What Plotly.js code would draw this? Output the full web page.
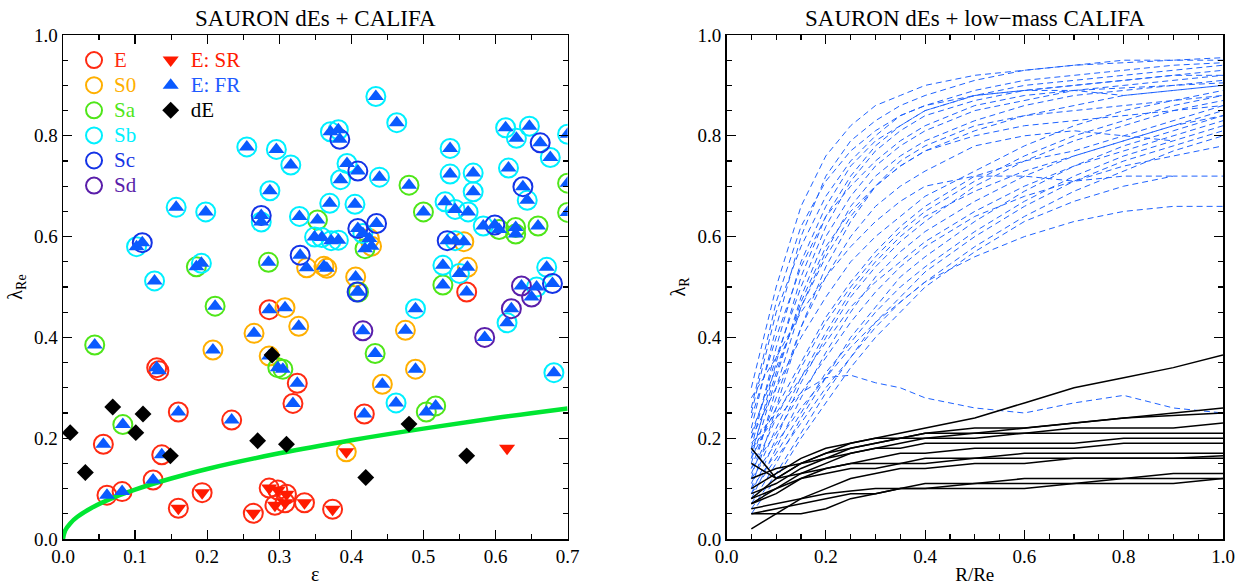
<!DOCTYPE html>
<html><head><meta charset="utf-8">
<script src="https://cdn.plot.ly/plotly-3.0.1.min.js"></script>
<style>html,body{margin:0;padding:0;background:#fff}#plot{width:1241px;height:585px}</style>
</head><body><div id="plot"></div>
<script>
// ---------- Left panel: lambda_Re vs ellipticity ----------
// morphological types (open circles); kin: F = fast rotator, S = slow rotator
const E_eps  = [0.286,0.130,0.133,0.325,0.319,0.160,0.234,0.056,0.137,0.061,0.082,0.125,0.418,0.560,
                0.193,0.160,0.264,0.286,0.298,0.310,0.294,0.308,0.335,0.374];
const E_lam  = [0.455,0.340,0.334,0.309,0.269,0.252,0.236,0.188,0.167,0.087,0.094,0.117,0.248,0.490,
                0.092,0.061,0.051,0.101,0.097,0.089,0.067,0.072,0.072,0.059];
const E_kin  = ['F','F','F','F','F','F','F','F','F','F','F','F','F','F',
                'S','S','S','S','S','S','S','S','S','S'];

const S0_eps = [0.308,0.327,0.265,0.208,0.286,0.338,0.362,0.366,0.406,0.425,0.428,0.556,0.561,0.475,0.489,0.443,0.393];
const S0_lam = [0.459,0.422,0.408,0.375,0.363,0.538,0.541,0.537,0.520,0.596,0.581,0.590,0.539,0.414,0.337,0.307,0.173];
const S0_kin = ['F','F','F','F','F','F','F','F','F','F','F','F','F','F','F','F','S'];

const Sa_eps = [0.353,0.185,0.285,0.480,0.700,0.500,0.419,0.605,0.628,0.628,0.659,0.700,0.410,0.527,0.433,0.504,0.517,0.211,0.044,0.298,0.305,0.083];
const Sa_lam = [0.633,0.540,0.549,0.702,0.706,0.649,0.576,0.614,0.618,0.605,0.621,0.648,0.490,0.504,0.368,0.252,0.264,0.462,0.385,0.340,0.337,0.227];
const Sa_kin = ['F','F','F','F','F','F','F','F','F','F','F','F','F','F','F','F','F','F','F','F','F','F'];

const Sb_eps = [0.255,0.296,0.316,0.287,0.157,0.198,0.275,0.328,0.349,0.102,0.192,0.127,0.434,0.463,0.371,0.382,0.537,
                0.614,0.647,0.629,0.676,0.700,0.394,0.385,0.439,0.537,0.569,0.569,0.618,0.644,0.370,0.405,0.530,0.544,
                0.562,0.359,0.372,0.382,0.416,0.544,0.583,0.527,0.550,0.671,0.657,0.489,0.616,0.681,0.462];
const Sb_lam = [0.778,0.773,0.742,0.691,0.658,0.649,0.629,0.640,0.599,0.580,0.547,0.512,0.878,0.826,0.808,0.812,0.775,
                0.816,0.819,0.795,0.757,0.803,0.745,0.713,0.718,0.724,0.726,0.689,0.736,0.672,0.666,0.664,0.669,0.654,
                0.649,0.598,0.592,0.593,0.606,0.592,0.621,0.543,0.527,0.539,0.500,0.457,0.429,0.330,0.270];
const Sb_kin = Sb_eps.map(() => 'F');

const Sc_eps = [0.275,0.110,0.329,0.384,0.409,0.662,0.638,0.409,0.435,0.533,0.599,0.679,0.408];
const Sc_lam = [0.642,0.588,0.563,0.793,0.730,0.786,0.699,0.616,0.626,0.592,0.623,0.507,0.490];
const Sc_kin = Sc_eps.map(() => 'F');

const Sd_eps = [0.636,0.650,0.622,0.585,0.416];
const Sd_lam = [0.502,0.480,0.457,0.400,0.413];
const Sd_kin = ['F','F','F','F','F'];

// slow rotator without morphological circle
const SRonly_eps = [0.616];
const SRonly_lam = [0.180];

// SAURON dwarf ellipticals
const dE_eps = [0.290,0.069,0.111,0.010,0.101,0.149,0.031,0.270,0.310,0.480,0.560,0.420];
const dE_lam = [0.365,0.262,0.248,0.211,0.211,0.165,0.132,0.195,0.188,0.228,0.165,0.122];

// fast/slow dividing curve
const curve_eps = [0,0.003,0.01,0.02,0.04,0.07,0.1,0.15,0.2,0.3,0.4,0.5,0.6,0.7];
const curve_lam = [0,0.017,0.031,0.044,0.062,0.082,0.098,0.120,0.139,0.170,0.196,0.219,0.240,0.259];

// ---------- Right panel: lambda_R profiles ----------
const R_grid = [0.05,0.1,0.15,0.2,0.25,0.3,0.35,0.4,0.5,0.6,0.7,0.8,0.9,1.0];
const califa_profiles = [
  [0.30,0.50,0.66,0.76,0.82,0.86,0.88,0.90,0.92,0.93,0.94,0.95,0.95,0.955],
  [0.22,0.42,0.60,0.72,0.79,0.83,0.86,0.88,0.91,0.93,0.94,0.945,0.95,0.95],
  [0.25,0.45,0.58,0.68,0.75,0.80,0.84,0.86,0.89,0.91,0.92,0.93,0.94,0.945],
  [0.18,0.38,0.55,0.66,0.74,0.79,0.82,0.85,0.88,0.90,0.91,0.92,0.93,0.94],
  [0.20,0.36,0.50,0.62,0.71,0.77,0.81,0.84,0.87,0.89,0.90,0.91,0.92,0.93],
  [0.15,0.32,0.48,0.60,0.68,0.74,0.78,0.81,0.85,0.87,0.89,0.90,0.91,0.92],
  [0.24,0.40,0.54,0.64,0.70,0.75,0.79,0.82,0.86,0.88,0.89,0.895,0.90,0.905],
  [0.12,0.30,0.46,0.57,0.66,0.72,0.76,0.79,0.83,0.86,0.88,0.89,0.90,0.91],
  [0.17,0.33,0.47,0.58,0.65,0.70,0.74,0.77,0.81,0.84,0.86,0.88,0.89,0.90],
  [0.10,0.26,0.42,0.54,0.63,0.70,0.75,0.78,0.82,0.84,0.85,0.86,0.87,0.88],
  [0.14,0.28,0.42,0.52,0.60,0.66,0.70,0.73,0.78,0.80,0.81,0.80,0.79,null],
  [0.20,0.30,0.40,0.48,0.55,0.60,0.64,0.68,0.73,0.78,0.82,0.85,0.87,0.89],
  [0.13,0.24,0.34,0.43,0.50,0.56,0.61,0.65,0.71,0.76,0.80,0.83,0.86,0.88],
  [0.09,0.20,0.31,0.40,0.48,0.54,0.59,0.63,0.70,0.75,0.79,0.82,0.85,0.87],
  [0.16,0.26,0.35,0.44,0.51,0.57,0.62,0.66,0.72,0.75,0.77,0.80,0.83,0.86],
  [0.11,0.22,0.32,0.41,0.49,0.55,0.60,0.64,0.69,0.73,0.76,0.79,0.82,0.85],
  [0.08,0.18,0.28,0.37,0.45,0.52,0.57,0.61,0.67,0.72,0.76,0.79,0.82,0.84],
  [0.28,0.36,0.45,0.52,0.58,0.63,0.67,0.70,0.72,0.72,0.71,0.72,0.72,null],
  [0.07,0.15,0.24,0.32,0.40,0.46,0.52,0.56,0.63,0.69,0.74,0.77,0.80,0.83],
  [0.10,0.17,0.25,0.33,0.39,0.45,0.50,0.54,0.61,0.67,0.72,0.76,0.79,0.82],
  [0.06,0.13,0.21,0.29,0.36,0.43,0.48,0.53,0.60,0.66,0.71,0.75,0.78,0.81],
  [0.12,0.19,0.26,0.32,0.38,0.43,0.47,0.51,0.58,0.64,0.69,0.73,0.77,0.80],
  [0.05,0.12,0.20,0.27,0.34,0.40,0.45,0.50,0.57,0.63,0.67,0.70,0.72,0.72],
  [0.09,0.16,0.23,0.30,0.36,0.42,0.47,0.51,0.56,0.60,0.63,0.65,0.66,0.66],
  [0.14,0.21,0.29,0.36,0.43,0.49,0.54,0.58,0.64,0.68,0.71,0.74,0.76,0.78],
  [0.19,0.25,0.32,0.39,0.46,0.51,0.55,0.59,0.65,0.70,0.74,0.78,0.81,0.84],
  [0.18,0.24,0.29,0.32,0.325,0.31,0.30,0.28,0.26,0.25,0.27,0.285,0.26,0.25],
  [0.26,0.47,0.62,0.71,0.77,0.81,0.84,0.86,0.88,0.89,0.90,0.91,0.92,0.92],
  [0.16,0.35,0.52,0.64,0.72,0.78,0.82,0.85,0.88,0.89,0.89,0.88,0.89,0.90],
  [0.21,0.34,0.46,0.56,0.64,0.70,0.74,0.77,0.80,0.82,0.83,0.84,0.85,0.86]
];
const dE_profiles = [
  [0.10,0.13,0.16,0.18,0.19,0.20,0.21,0.22,0.24,0.27,0.30,0.32,0.34,0.365],
  [0.08,0.12,0.15,0.17,0.18,0.19,0.20,0.20,0.21,0.22,0.23,0.24,0.25,0.26],
  [0.09,0.11,0.14,0.16,0.18,0.19,0.20,0.21,0.22,0.22,0.23,0.24,0.245,0.25],
  [0.18,0.12,0.15,0.17,0.19,0.20,0.20,0.21,0.21,0.21,0.22,0.22,0.22,0.23],
  [0.07,0.10,0.13,0.15,0.17,0.18,0.19,0.20,0.20,0.21,0.21,0.21,0.21,0.21],
  [0.12,0.14,0.15,0.16,0.17,0.18,0.18,0.19,0.19,0.19,0.19,0.20,0.20,0.20],
  [0.07,0.09,0.12,0.14,0.15,0.16,0.17,0.17,0.18,0.18,0.18,0.19,0.19,0.19],
  [0.15,0.12,0.13,0.14,0.15,0.15,0.15,0.16,0.16,0.17,0.17,0.17,0.17,0.17],
  [0.08,0.10,0.12,0.13,0.14,0.14,0.15,0.15,0.16,0.16,0.16,0.16,0.16,0.16],
  [0.06,0.07,0.08,0.09,0.095,0.10,0.10,0.11,0.11,0.12,0.12,0.12,0.13,0.13],
  [0.05,0.06,0.07,0.08,0.09,0.09,0.10,0.10,0.11,0.11,0.11,0.12,0.12,0.12],
  [0.02,0.05,0.08,0.10,0.12,0.13,0.14,0.14,0.15,0.15,0.16,0.16,0.16,0.165],
  [0.05,0.05,0.05,0.06,0.08,0.09,0.10,0.10,0.10,0.10,0.11,0.11,0.11,0.12]
];

// ---------- styling ----------
const types = [
  {name:'E',  eps:E_eps,  lam:E_lam,  kin:E_kin,  color:'#ff2a12'},
  {name:'S0', eps:S0_eps, lam:S0_lam, kin:S0_kin, color:'#ffaf00'},
  {name:'Sa', eps:Sa_eps, lam:Sa_lam, kin:Sa_kin, color:'#4fe619'},
  {name:'Sb', eps:Sb_eps, lam:Sb_lam, kin:Sb_kin, color:'#00f0ff'},
  {name:'Sc', eps:Sc_eps, lam:Sc_lam, kin:Sc_kin, color:'#1433e6'},
  {name:'Sd', eps:Sd_eps, lam:Sd_lam, kin:Sd_kin, color:'#5a1eaa'}
];
const FRcol = '#0a5aff', SRcol = '#ff1a00';
const lg = (txt, col) => '<span style="font-size:21px;color:' + col + '">' + txt + '</span>';

const traces = [];
types.forEach(t => {
  traces.push({type:'scatter', mode:'markers', x:t.eps, y:t.lam, xaxis:'x', yaxis:'y',
    name:lg(t.name, t.color), legend:'legend',
    marker:{symbol:'circle-open', size:19, color:t.color, line:{width:2, color:t.color}}});
});
traces.push({type:'scatter', mode:'lines', x:curve_eps, y:curve_lam, xaxis:'x', yaxis:'y',
  line:{color:'#00e632', width:4.5, shape:'spline'}, showlegend:false});

const fr = {x:[], y:[]}, sr = {x:[], y:[]};
types.forEach(t => t.eps.forEach((e,i) => {
  const tgt = t.kin[i] === 'S' ? sr : fr; tgt.x.push(e); tgt.y.push(t.lam[i]);
}));
SRonly_eps.forEach((e,i) => { sr.x.push(e); sr.y.push(SRonly_lam[i]); });

traces.push({type:'scatter', mode:'markers', x:sr.x, y:sr.y, xaxis:'x', yaxis:'y',
  name:lg('E: SR', SRcol), legend:'legend2',
  marker:{symbol:'triangle-down', size:14, color:SRcol}});
traces.push({type:'scatter', mode:'markers', x:fr.x, y:fr.y, xaxis:'x', yaxis:'y',
  name:lg('E: FR', '#1e5aff'), legend:'legend2',
  marker:{symbol:'triangle-up', size:14, color:FRcol}});
traces.push({type:'scatter', mode:'markers', x:dE_eps, y:dE_lam, xaxis:'x', yaxis:'y',
  name:lg('dE', 'black'), legend:'legend2',
  marker:{symbol:'diamond', size:13, color:'black'}});

califa_profiles.forEach(p => traces.push({type:'scatter', mode:'lines', x:R_grid, y:p,
  xaxis:'x2', yaxis:'y2', showlegend:false,
  line:{color:'#1f63ff', width:1, dash:'6px,4px'}}));
dE_profiles.forEach(p => traces.push({type:'scatter', mode:'lines', x:R_grid, y:p,
  xaxis:'x2', yaxis:'y2', showlegend:false,
  line:{color:'black', width:1.5}}));

const axBase = {showline:true, linecolor:'black', linewidth:1.5, mirror:'allticks',
  ticks:'inside', ticklen:9, tickwidth:1.2, tickcolor:'black', showgrid:false, zeroline:false,
  tickformat:'.1f', tickfont:{size:19},
  minor:{dtick:0.05, ticks:'inside', ticklen:5, tickwidth:1.2, tickcolor:'black', showgrid:false}};

const layout = {
  width:1241, height:585,
  margin:{l:63, r:18, t:35, b:46},
  paper_bgcolor:'white', plot_bgcolor:'white',
  font:{family:'Liberation Serif, serif', size:19, color:'black'},
  xaxis:Object.assign({}, axBase, {domain:[0,0.435], range:[0,0.7], dtick:0.1, anchor:'y',
    title:{text:'ε', standoff:3, font:{size:20}}}),
  yaxis:Object.assign({}, axBase, {domain:[0,1], range:[0,1], dtick:0.2, anchor:'x',
    title:{text:'λ<sub>Re</sub>', standoff:6, font:{size:20}}}),
  xaxis2:Object.assign({}, axBase, {domain:[0.572,1], range:[0,1], dtick:0.2, anchor:'y2',
    title:{text:'R/Re', standoff:3, font:{size:19}}}),
  yaxis2:Object.assign({}, axBase, {domain:[0,1], range:[0,1], dtick:0.2, anchor:'x2',
    title:{text:'λ<sub>R</sub>', standoff:6, font:{size:20}}}),
  showlegend:true,
  legend:{x:0.0095, y:0.985, xanchor:'left', yanchor:'top', bgcolor:'rgba(0,0,0,0)',
    font:{size:17}, tracegroupgap:0, itemsizing:'trace'},
  legend2:{x:0.0756, y:0.985, xanchor:'left', yanchor:'top', bgcolor:'rgba(0,0,0,0)',
    font:{size:17}, tracegroupgap:0, itemsizing:'trace'},
  annotations:[
    {text:'SAURON dEs + CALIFA', xref:'paper', yref:'paper', x:0.2175, y:1.033,
     xanchor:'center', yanchor:'middle', showarrow:false, font:{size:23}},
    {text:'SAURON dEs + low\u2212mass CALIFA', xref:'paper', yref:'paper', x:0.786, y:1.033,
     xanchor:'center', yanchor:'middle', showarrow:false, font:{size:23}}
  ]
};

Plotly.newPlot('plot', traces, layout, {staticPlot:true, displayModeBar:false});
</script>
</body></html>
